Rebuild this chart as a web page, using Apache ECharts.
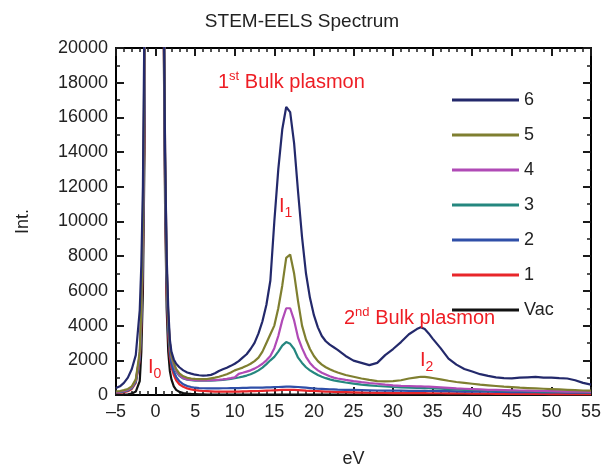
<!DOCTYPE html>
<html><head><meta charset="utf-8">
<script src="https://cdn.jsdelivr.net/npm/echarts@6/dist/echarts.min.js"></script>
<style>html,body{margin:0;padding:0;background:#fff}#c{width:604px;height:473px}</style>
</head><body><div id="c"></div>
<script>
var energy = [-5,-4.5,-4,-3.5,-3,-2.5,-2,
  -1.8,-1.6,-1.4,-1,-0.5,0,0.5,0.8,1.0,1.2,1.4,1.6,1.8,
  2,2.3,2.6,3,3.5,4,4.5,5,5.5,6,
  6.5,7,7.5,8,8.5,9,9.5,10,
  10.5,11,11.5,12,12.5,13,13.5,14,
  14.5,15,15.5,16,16.5,17,17.5,18,
  18.5,19,19.5,20,20.5,21,21.5,22,
  22.5,23,24,25,26,27,28,29,
  30,31,32,33,33.5,34,34.5,35,
  36,37,38,39,40,41,42,43,
  44,45,46,47,48,49,50,51,
  52,53,54,55];

var s6 = [400,500,700,1000,1500,2300,4900,
  7500,12000,22000,60000,80000,90000,80000,45000,24000,14000,8000,5000,3200,
  2500,2050,1800,1600,1420,1300,1230,1170,1140,1120,
  1130,1160,1250,1380,1480,1570,1680,1800,
  1950,2150,2350,2650,3000,3550,4250,5200,
  6600,10000,13000,15300,16600,16300,14500,11700,
  9100,7000,5600,4600,3900,3400,3100,2900,
  2750,2600,2250,1980,1850,1720,1850,2300,
  2650,3050,3500,3800,3900,3800,3550,3250,
  2700,2100,1750,1500,1350,1200,1100,1020,
  970,960,1000,1020,1040,1000,1000,970,
  950,850,700,600];

var s5 = [200,230,280,350,500,900,2500,
  5000,10000,20000,60000,80000,90000,80000,50000,26000,14000,7500,4500,3000,
  2300,1850,1500,1250,1080,990,950,930,920,910,
  920,960,1000,1050,1120,1200,1300,1420,
  1500,1580,1680,1800,1950,2150,2500,3000,
  3500,4000,5000,6300,7900,8100,7000,5400,
  4000,3200,2650,2250,1950,1750,1600,1480,
  1380,1300,1150,1050,950,870,800,780,
  800,850,950,1020,1050,1040,1020,980,
  900,820,750,700,650,600,560,520,
  480,450,420,400,380,360,340,320,
  300,280,260,250];

var s4 = [180,200,240,300,450,850,2300,
  4800,9500,19000,60000,80000,90000,80000,50000,26000,14000,7500,4500,3000,
  2200,1750,1400,1150,980,900,870,850,840,840,
  840,850,860,880,900,930,970,1020,
  1220,1280,1350,1420,1520,1650,1800,2000,
  2250,2700,3400,4300,5000,5000,4300,3300,
  2700,2200,1850,1600,1420,1280,1180,1080,
  1000,950,870,800,740,690,650,600,
  560,530,520,500,500,490,480,470,
  440,410,380,360,340,320,300,290,
  280,270,260,250,240,230,220,210,
  200,200,190,180];

var s3 = [160,180,220,280,420,800,2200,
  4500,9000,18000,60000,80000,90000,80000,50000,25000,13000,7000,4200,2800,
  2100,1650,1350,1100,950,880,850,830,820,820,
  820,830,840,850,870,900,930,970,
  1010,1060,1120,1200,1300,1420,1580,1780,
  2000,2200,2500,2850,3050,2950,2650,2150,
  1850,1600,1420,1280,1150,1050,970,900,
  840,800,720,660,600,560,520,490,
  460,440,420,410,410,400,390,380,
  360,340,320,300,290,280,270,260,
  250,240,230,220,210,200,200,190,
  180,180,170,170];

var s2 = [150,170,200,260,400,750,2100,
  4300,8500,17000,60000,80000,90000,80000,48000,24000,12500,6500,3800,2500,
  1800,1350,1050,800,620,520,460,420,400,390,
  380,380,380,380,390,390,400,400,
  400,410,410,420,420,430,430,440,
  440,450,460,470,480,480,470,460,
  440,420,400,380,360,350,340,330,
  320,310,300,290,280,270,260,250,
  250,250,240,240,240,240,230,230,
  220,220,210,200,200,190,190,180,
  180,170,170,160,160,150,150,150,
  140,140,130,130];

var s1 = [120,140,170,220,350,700,2000,
  4000,8000,16000,60000,80000,90000,80000,46000,23000,12000,6000,3500,2200,
  1600,1150,850,620,470,380,320,280,250,230,
  220,210,200,200,200,200,200,200,
  200,210,210,220,220,230,240,250,
  260,270,280,290,300,300,290,280,
  270,250,240,230,220,210,200,190,
  180,170,160,150,140,130,120,120,
  110,110,110,110,110,110,100,100,
  100,90,90,90,80,80,80,70,
  70,70,60,60,60,60,50,50,
  50,50,50,50];

var sVac = [20,20,30,40,80,200,800,
  2500,6000,14000,60000,80000,90000,80000,45000,22000,11000,5000,2500,1400,
  900,500,300,180,110,80,60,50,40,40,
  30,30,30,30,30,30,30,30,
  30,30,30,30,30,30,30,30,
  30,30,30,30,30,30,30,30,
  20,20,20,20,20,20,20,20,
  20,20,20,20,20,20,20,20,
  20,20,20,20,20,20,20,20,
  10,10,10,10,10,10,10,10,
  10,10,10,10,10,10,10,10,
  10,10,10,10];

var seriesNames = ['Vac','1','2','3','4','5','6'];
var seriesValues = [sVac, s1, s2, s3, s4, s5, s6];
var seriesColors = ['#111111','#e8262a','#2f4fa8','#25877f','#b04ab6','#7f7f30','#23296b'];
var legendOrder = ['6','5','4','3','2','1','Vac'];

var FONT = 'Liberation Sans, Arial, sans-serif';
var RED = '#ee1d24';
var TICK = '#1a1a1a';

function pairs(vals){ return energy.map(function(e,i){ return [e, vals[i]]; }); }

var series = seriesNames.map(function(n,k){
  return {
    name: n, type: 'line', data: pairs(seriesValues[k]),
    xAxisIndex: 0, yAxisIndex: 0,
    symbol: 'none', showSymbol: false, clip: true,
    lineStyle: { color: seriesColors[k], width: 2.2 },
    itemStyle: { color: seriesColors[k] }
  };
});

function xAx(pos, showLabel){
  var a = {
    type: 'value', position: pos, min: -5, max: 55, interval: 5,
    axisLine: { show: true, onZero: false, lineStyle: { color: '#000', width: 2 } },
    axisTick: { show: true, inside: true, length: 8, lineStyle: { color: TICK, width: 2 } },
    minorTick: { show: true, splitNumber: 5, length: 4, lineStyle: { color: TICK, width: 1.5 } },
    splitLine: { show: false },
    axisLabel: { show: showLabel }
  };
  if (showLabel) {
    a.axisLabel = { show: true, fontSize: 18, color: '#222', fontFamily: FONT, margin: 8,
      formatter: function(v){ return String(v).replace('-', '\u2013'); } };
    a.name = 'eV'; a.nameLocation = 'middle'; a.nameGap = 55;
    a.nameTextStyle = { fontSize: 18, color: '#222', fontFamily: FONT };
  }
  return a;
}
function yAx(pos, showLabel){
  var a = {
    type: 'value', position: pos, min: 0, max: 20000, interval: 2000,
    axisLine: { show: true, onZero: false, lineStyle: { color: '#000', width: 2 } },
    axisTick: { show: true, inside: true, length: 8, lineStyle: { color: TICK, width: 2 } },
    minorTick: { show: true, splitNumber: 2, length: 4, lineStyle: { color: TICK, width: 1.5 } },
    splitLine: { show: false },
    axisLabel: { show: showLabel }
  };
  if (showLabel) {
    a.axisLabel = { show: true, fontSize: 18, color: '#222', fontFamily: FONT, margin: 8,
      formatter: function(v){ return String(v); } };
    a.name = 'Int.'; a.nameLocation = 'middle'; a.nameGap = 84;
    a.nameTextStyle = { fontSize: 18, color: '#222', fontFamily: FONT };
  }
  return a;
}

var chart = echarts.init(document.getElementById('c'));
chart.setOption({
  animation: false,
  grid: { left: 116, right: 13, top: 48, bottom: 73 },
  xAxis: [xAx('bottom', true), xAx('top', false)],
  yAxis: [yAx('left', true), yAx('right', false)],
  series: series,
  title: { text: 'STEM-EELS Spectrum', left: 'center', top: 7,
    textStyle: { fontSize: 19, fontWeight: 'normal', color: '#222', fontFamily: FONT } },
  legend: {
    data: legendOrder, orient: 'vertical', left: 447, top: 86,
    icon: 'rect', itemWidth: 67, itemHeight: 3, itemGap: 17,
    textStyle: { fontSize: 18, color: '#222', fontFamily: FONT },
    selectedMode: false
  },
  graphic: [
    { type: 'text', left: 218, top: 70, z: 100, style: {
      text: '{n|1}{s|st}{n| Bulk plasmon}', fill: RED,
      rich: { n: { fontSize: 20, fill: RED, fontFamily: FONT, verticalAlign: 'bottom' },
              s: { fontSize: 13, fill: RED, fontFamily: FONT, verticalAlign: 'bottom', padding: [0,0,9,0] } } } },
    { type: 'text', left: 344, top: 306, z: 100, style: {
      text: '{n|2}{s|nd}{n| Bulk plasmon}', fill: RED,
      rich: { n: { fontSize: 20, fill: RED, fontFamily: FONT, verticalAlign: 'bottom' },
              s: { fontSize: 13, fill: RED, fontFamily: FONT, verticalAlign: 'bottom', padding: [0,0,9,0] } } } },
    { type: 'text', left: 279, top: 196, z: 100, style: {
      text: '{n|I}{b|1}', fill: RED,
      rich: { n: { fontSize: 20, fill: RED, fontFamily: FONT, verticalAlign: 'top' },
              b: { fontSize: 14, fill: RED, fontFamily: FONT, verticalAlign: 'top', padding: [10,0,0,0] } } } },
    { type: 'text', left: 148, top: 357, z: 100, style: {
      text: '{n|I}{b|0}', fill: RED,
      rich: { n: { fontSize: 20, fill: RED, fontFamily: FONT, verticalAlign: 'top' },
              b: { fontSize: 14, fill: RED, fontFamily: FONT, verticalAlign: 'top', padding: [10,0,0,0] } } } },
    { type: 'text', left: 420, top: 350, z: 100, style: {
      text: '{n|I}{b|2}', fill: RED,
      rich: { n: { fontSize: 20, fill: RED, fontFamily: FONT, verticalAlign: 'top' },
              b: { fontSize: 14, fill: RED, fontFamily: FONT, verticalAlign: 'top', padding: [10,0,0,0] } } } }
  ]
});
</script></body></html>
